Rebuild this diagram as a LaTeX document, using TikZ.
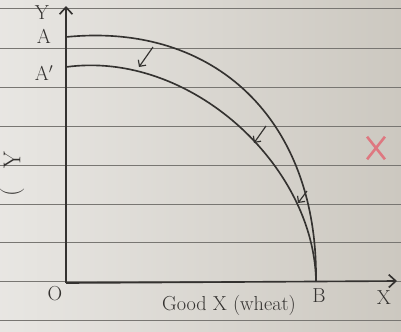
\documentclass[tikz,border=0pt]{standalone}
\usepackage{xcolor}
\usetikzlibrary{arrows.meta}
\usetikzlibrary{math, shapes.misc}
\definecolor{paper}{RGB}{204,200,192}
\definecolor{rule}{RGB}{120,118,114}
\definecolor{pencil}{RGB}{52,50,48}
\definecolor{redmark}{RGB}{222,120,128}

\begin{document}
\begin{tikzpicture}[x=0.03cm,y=-0.03cm,
  pen/.style={pencil, line width=1.4},
  barb/.style={-{Straight Barb[length=6pt,width=11pt]}},
  hand/.style={text=pencil, font=\LARGE}]
\tikzmath{
\W=401; \H=331;
}

\useasboundingbox (0,0) rectangle (\W,\H);
\shade[left color=paper!45!white, right color=paper] (0,0) rectangle (\W,\H);
\foreach \y in {8,48,87,126,165,204,242,281,320}
  \draw[rule, line width=0.8] (0,\y) -- (\W,\y);

\coordinate (O) at (66,283);
\coordinate (Yend) at (66,6);
\coordinate (Xend) at (397,281);
\coordinate (A) at (66,37);
\coordinate (Ap) at (66,67);
\coordinate (B) at (316,281);

% axes
\draw[pen, barb] (O) -- (Yend);
\draw[pen, barb] (O) -- (Xend);

% old and new frontier
\draw[pen] (A) .. controls (215,22) and (318,120) .. (B);
\draw[pen] (Ap) .. controls (190,50) and (314,165) .. (B);

% shift inwards
\coordinate (s1) at (153,47);
\coordinate (e1) at (139,67);
\coordinate (s2) at (266,126);
\coordinate (e2) at (254,143);
\coordinate (s3) at (307,191);
\coordinate (e3) at (298,203);
\draw[pen, line width=1, -{Straight Barb[length=4pt,width=8pt]}] (s1) -- (e1);
\draw[pen, line width=1, -{Straight Barb[length=4pt,width=8pt]}] (s2) -- (e2);
\draw[pen, line width=1, -{Straight Barb[length=4pt,width=8pt]}] (s3) -- (e3);

\node[hand] (ylab) at (42,13) {Y};
\node[hand] (alab) at (44,36) {A};
\node[hand] (aplab) at (44,73) {A$'$};
\node[hand] (olab) at (55,294) {O};
\node[hand] (blab) at (319,296) {B};
\node[hand] (xlab) at (384,298) {X};
\node[hand] (goodx) at (229,305) {Good X (wheat)};
\node[hand, font=\huge, rotate=90] (goody) at (12,160) {Y};
\node[hand, font=\huge, rotate=90] (paren) at (12,192) {(};
\node[draw=redmark, cross out, line width=2.2pt, minimum width=13pt, minimum height=17pt] (mark) at (376,148) {};
\end{tikzpicture}
\end{document}
